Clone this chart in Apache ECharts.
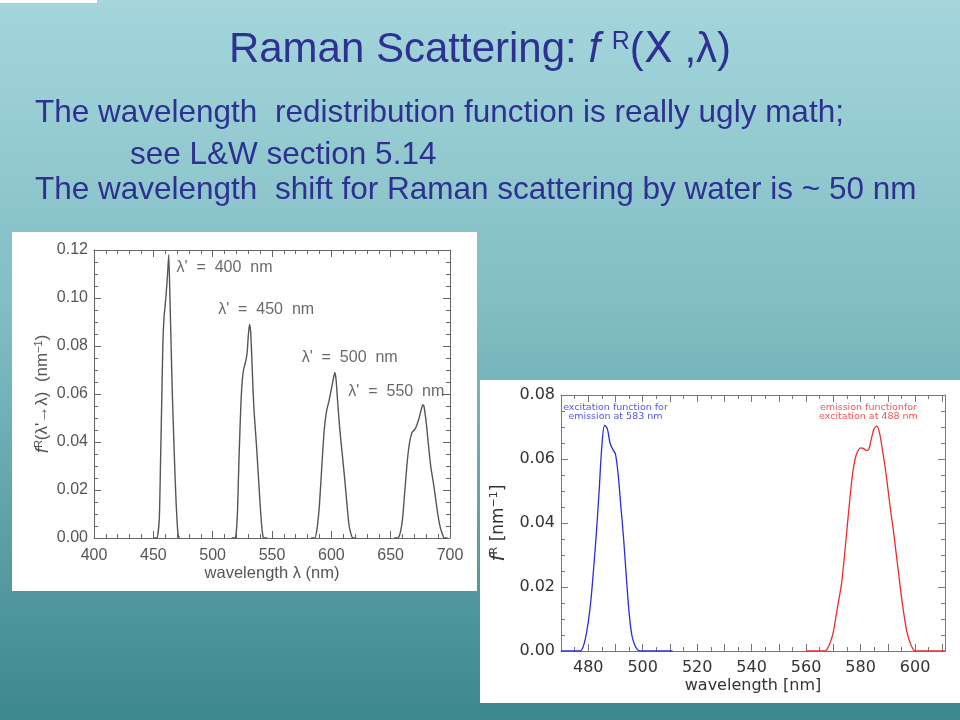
<!DOCTYPE html>
<html><head><meta charset="utf-8">
<script src="https://cdn.jsdelivr.net/npm/echarts@6/dist/echarts.min.js"></script>
<style>html,body{margin:0;padding:0;}#c{width:960px;height:720px;}</style>
</head><body><div id="c"></div>
<script>
// ---- Left chart data: Raman redistribution for four excitation wavelengths ----
const peak400 = [[450,0],[453,0],[455,0.008],[456,0.03],[457,0.055],[458,0.08],[459,0.092],[460,0.097],[461,0.103],[462,0.11],[463,0.118],[464,0.1],[465,0.08],[466,0.06],[467,0.045],[468,0.03],[469,0.017],[470,0.007],[471,0.001],[472,0]];
const peak450 = [[516,0],[519,0],[520,0.003],[521,0.012],[522,0.03],[523,0.045],[524,0.058],[525,0.066],[526,0.07],[527,0.072],[528,0.074],[529,0.077],[530,0.084],[531,0.089],[532,0.086],[533,0.075],[534,0.062],[535,0.052],[536,0.045],[537,0.038],[538,0.03],[539,0.022],[540,0.014],[541,0.007],[542,0.002],[543,0],[546,0]];
const peak500 = [[583,0],[586,0],[588,0.004],[590,0.014],[592,0.03],[594,0.045],[596,0.053],[598,0.057],[600,0.062],[602,0.067],[603,0.069],[604,0.066],[605,0.059],[607,0.046],[609,0.036],[611,0.026],[613,0.015],[615,0.005],[617,0.001],[618,0],[621,0]];
const peak550 = [[653,0],[656,0],[658,0.002],[660,0.008],[662,0.02],[664,0.032],[666,0.04],[668,0.044],[670,0.045],[672,0.047],[674,0.05],[676,0.054],[677,0.0555],[678,0.055],[680,0.048],[682,0.038],[684,0.029],[686,0.023],[688,0.016],[690,0.009],[692,0.004],[694,0.001],[695,0],[698,0]];
const leftLabels = [[469.5,0.1128,"λ'  =  400  nm"],[504.6,0.0953,"λ'  =  450  nm"],[575,0.0751,"λ'  =  500  nm"],[614.3,0.061,"λ'  =  550  nm"]];
const leftXTicks = [400,450,500,550,600,650,700];
const leftYTicks = [0.00,0.02,0.04,0.06,0.08,0.10,0.12];

// ---- Right chart data: excitation / emission functions ----
const excitation583 = [[470,0],[477,0],[478,0.001],[479,0.004],[480,0.009],[481,0.016],[482,0.026],[483,0.037],[484,0.05],[485,0.064],[486,0.0705],[487,0.0695],[488,0.065],[489,0.063],[490,0.0615],[491,0.055],[492,0.045],[493,0.035],[494,0.023],[495,0.012],[496,0.005],[497,0.002],[498,0.0005],[499,0],[511,0]];
const emission488 = [[560,0],[567,0],[568,0.001],[569,0.003],[570,0.006],[571,0.011],[572,0.016],[573,0.021],[574,0.029],[575,0.038],[576,0.047],[577,0.055],[578,0.06],[579,0.0625],[580,0.0635],[581,0.0633],[582,0.0627],[583,0.063],[584,0.0665],[585,0.0695],[586,0.0703],[587,0.068],[588,0.063],[589,0.0575],[590,0.051],[591,0.044],[592,0.038],[593,0.031],[594,0.024],[595,0.017],[596,0.011],[597,0.006],[598,0.003],[599,0.001],[600,0],[611,0]];
const blueNote = [[490,0.0747,"excitation function for\nemission at 583 nm"]];
const redNote = [[582.9,0.0747,"emission functionfor\nexcitation at 488 nm"]];
const rightXTicks = [480,500,520,540,560,580,600];
const rightYTicks = [0.00,0.02,0.04,0.06,0.08];

const titleText = "Raman Scattering: {i|f} {sup|R}(Ⅹ ,λ)";
const bodyLines = ["The wavelength  redistribution function is really ugly math;", "see L&W section 5.14", "The wavelength  shift for Raman scattering by water is ~ 50 nm"];

const chart = echarts.init(document.getElementById('c'), null, {renderer:'canvas'});
const navy = '#2e3191';
const slideFont = "'Liberation Sans',Arial,sans-serif";

function frameAxis(gridIndex, min, max, interval, minorSplit, labelCfg, tickColor) {
  return {
    type:'value', gridIndex, min, max, interval,
    axisLine:{show:true, onZero:false, lineStyle:{color:tickColor, width:1}},
    axisTick:{show:true, inside:true, length:7, lineStyle:{color:tickColor}},
    minorTick:{show:true, splitNumber:minorSplit, length:4, lineStyle:{color:tickColor}},
    splitLine:{show:false},
    axisLabel: labelCfg
  };
}

const leftLabelStyle = {fontFamily:'Liberation Sans, Arial, sans-serif', fontSize:16, color:'#555'};
const rightLabelStyle = {fontFamily:'DejaVu Sans, sans-serif', fontSize:16, color:'#333'};

const option = {
  animation:false,
  backgroundColor:{type:'linear', x:0, y:0, x2:0, y2:1, colorStops:[{offset:0,color:'#a4d6dc'},{offset:0.45,color:'#7fbcc2'},{offset:1,color:'#3d878e'}]},
  graphic:[
    {type:'rect', shape:{x:0,y:0,width:97,height:3}, style:{fill:'#ffffff'}, z:0},
    {type:'rect', shape:{x:12,y:232,width:465,height:359}, style:{fill:'#ffffff'}, z:0},
    {type:'rect', shape:{x:480,y:380,width:480,height:323}, style:{fill:'#ffffff'}, z:0},
    {type:'text', x:480, y:50, z:5, style:{text:titleText, textAlign:'center', textVerticalAlign:'middle', fill:navy, font:'42px '+slideFont,
      rich:{i:{fontStyle:'italic', fontSize:42, fontFamily:slideFont, fill:navy}, sup:{fontSize:25, fontFamily:slideFont, fill:navy, padding:[0,0,16,0]}}}},
    {type:'text', x:35, y:113, z:5, style:{text:bodyLines[0], textVerticalAlign:'middle', fill:navy, font:'31.5px '+slideFont}},
    {type:'text', x:130, y:155, z:5, style:{text:bodyLines[1], textVerticalAlign:'middle', fill:navy, font:'31.5px '+slideFont}},
    {type:'text', x:35, y:190, z:5, style:{text:bodyLines[2], textVerticalAlign:'middle', fill:navy, font:'31.5px '+slideFont}}
  ],
  grid:[
    {left:94, top:250, width:356, height:288},
    {left:561, top:395, width:384, height:256}
  ],
  xAxis:[
    Object.assign(frameAxis(0,400,700,50,5,Object.assign({margin:10, formatter:v=>leftXTicks.includes(v)?String(v):''},leftLabelStyle),'#666'),
      {name:'wavelength λ (nm)', nameLocation:'middle', nameGap:27, nameTextStyle:{fontFamily:'Liberation Sans, sans-serif', fontSize:16.5, color:'#555'}}),
    Object.assign(frameAxis(0,400,700,50,5,{show:false},'#666'),{position:'top'}),
    Object.assign(frameAxis(1,470,611,10,2,Object.assign({margin:9, formatter:v=>rightXTicks.includes(v)?String(v):''},rightLabelStyle),'#777'),
      {name:'wavelength [nm]', nameLocation:'middle', nameGap:27, nameTextStyle:{fontFamily:'DejaVu Sans, sans-serif', fontSize:16, color:'#333'}}),
    Object.assign(frameAxis(1,470,611,10,2,{show:false},'#777'),{position:'top'})
  ],
  yAxis:[
    Object.assign(frameAxis(0,0,0.12,0.02,4,Object.assign({margin:6, formatter:v=>v.toFixed(2)},leftLabelStyle),'#666'),
      {name:"{i|f}{s|R}(λ'→λ)  (nm{s|−1})", nameLocation:'middle', nameRotate:90, nameGap:42,
       nameTextStyle:{fontFamily:'Liberation Sans, sans-serif', fontSize:17, color:'#555', rich:{i:{fontStyle:'italic', fontSize:19, color:'#555'}, s:{fontSize:11, color:'#555', padding:[0,0,8,0]}}}}),
    Object.assign(frameAxis(0,0,0.12,0.02,4,{show:false},'#666'),{position:'right'}),
    Object.assign(frameAxis(1,0,0.08,0.02,4,Object.assign({margin:6, formatter:v=>v.toFixed(2)},rightLabelStyle),'#777'),
      {name:"{i|f}{s|R} [nm{s|−1}]", nameLocation:'middle', nameRotate:90, nameGap:52,
       nameTextStyle:{fontFamily:'DejaVu Sans, sans-serif', fontSize:17, color:'#333', rich:{i:{fontStyle:'italic', fontSize:20, color:'#333'}, s:{fontSize:11, color:'#333', padding:[0,0,9,0]}}}}),
    Object.assign(frameAxis(1,0,0.08,0.02,4,{show:false},'#777'),{position:'right'})
  ],
  series:[
    ...[peak400,peak450,peak500,peak550].map((d,i)=>({type:'line', name:['400','450','500','550'][i], xAxisIndex:0, yAxisIndex:0, data:d, showSymbol:false, smooth:0.2, lineStyle:{color:'#555', width:1.4}, z:3})),
    {type:'scatter', xAxisIndex:0, yAxisIndex:0, data:leftLabels, symbolSize:0, silent:true,
      label:{show:true, position:'right', distance:0, formatter:p=>p.value[2], fontFamily:'Liberation Sans, sans-serif', fontSize:16, color:'#444'}},
    {type:'line', name:'excitation', xAxisIndex:2, yAxisIndex:2, data:excitation583, showSymbol:false, smooth:0.3, lineStyle:{color:'#2b2be0', width:1.3}},
    {type:'line', name:'emission', xAxisIndex:2, yAxisIndex:2, data:emission488, showSymbol:false, smooth:0.3, lineStyle:{color:'#ee2b2b', width:1.3}},
    {type:'scatter', xAxisIndex:2, yAxisIndex:2, data:blueNote, symbolSize:0, silent:true,
      label:{show:true, position:'inside', formatter:p=>p.value[2], fontFamily:'DejaVu Sans, sans-serif', fontSize:9.5, lineHeight:9, color:'#2b2be0'}},
    {type:'scatter', xAxisIndex:2, yAxisIndex:2, data:redNote, symbolSize:0, silent:true,
      label:{show:true, position:'inside', formatter:p=>p.value[2], fontFamily:'DejaVu Sans, sans-serif', fontSize:9.5, lineHeight:9, color:'#ee2b2b'}}
  ]
};
chart.setOption(option);
</script></body></html>
